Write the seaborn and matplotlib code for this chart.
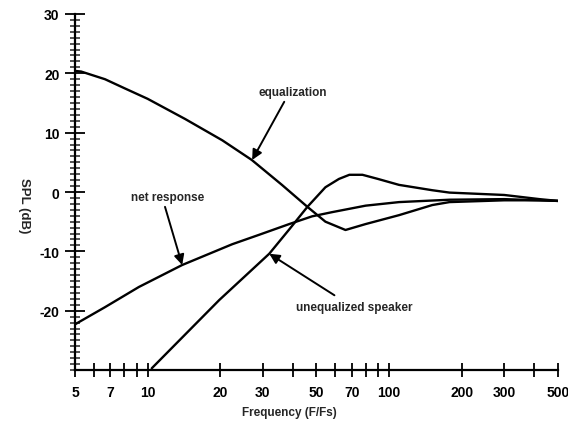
import numpy as np
import pandas as pd
import matplotlib
matplotlib.use("Agg")
import matplotlib.pyplot as plt
import seaborn as sns
from matplotlib.ticker import FixedLocator, NullFormatter

# values
freq_eq = [5, 5.3, 6.66, 8, 10, 14.3, 20.4, 27, 36, 45.9, 54.5, 66, 80, 110, 151, 178, 300, 420, 500]
spl_eq = [20.4, 20.3, 19.0, 17.5, 15.7, 12.3, 8.7, 5.4, 1.2, -2.5, -5.0, -6.4, -5.4, -3.9, -2.2, -1.7, -1.4, -1.4, -1.5]

freq_spk = [10.4, 19.8, 31.9, 38.6, 45.9, 54.5, 62, 68.5, 77.6, 90, 110, 151, 178, 300, 420, 500]
spl_spk = [-29.7, -18.2, -10.4, -6.3, -2.5, 0.8, 2.2, 2.9, 2.9, 2.2, 1.2, 0.3, -0.1, -0.5, -1.2, -1.5]

freq_net = [5, 6.66, 9.2, 13.9, 22.4, 29, 38.6, 48, 58, 80, 110, 178, 300, 500]
spl_net = [-22.3, -19.4, -16.0, -12.3, -8.8, -7.2, -5.4, -4.1, -3.4, -2.3, -1.7, -1.3, -1.2, -1.5]

xtick_vals = [5, 6, 7, 8, 9, 10, 20, 30, 40, 50, 60, 70, 80, 90, 100, 200, 300, 400, 500]
xtick_labels = ["5", "", "7", "", "", "10", "20", "30", "", "50", "", "70", "", "", "100", "200", "300", "", "500"]
ytick_vals = [-20, -10, 0, 10, 20, 30]

df = pd.concat([
    pd.DataFrame({"f": freq_eq, "spl": spl_eq, "curve": "equalization"}),
    pd.DataFrame({"f": freq_spk, "spl": spl_spk, "curve": "unequalized speaker"}),
    pd.DataFrame({"f": freq_net, "spl": spl_net, "curve": "net response"}),
])

sns.set_style("ticks")
plt.rcParams['font.family'] = ['Liberation Sans', 'DejaVu Sans']
plt.rcParams['axes.unicode_minus'] = False

fig = plt.figure(figsize=(5.68, 4.27), dpi=100)
ax = fig.add_axes([0.132, 0.131, 0.850, 0.834])

for name, grp in df.groupby("curve", sort=False):
    sns.lineplot(data=grp, x="f", y="spl", ax=ax, color="black", lw=1.7,
                 estimator=None, sort=False, legend=False)

ax.set_xscale("log")
ax.set_xlim(5, 500)
ax.set_ylim(-30, 30)

ax.xaxis.set_major_locator(FixedLocator(xtick_vals))
ax.xaxis.set_minor_locator(FixedLocator([]))
ax.set_xticklabels(xtick_labels)
ax.xaxis.set_minor_formatter(NullFormatter())
ax.set_yticks(ytick_vals)
ax.set_yticks(np.arange(-30, 31, 1), minor=True)

ax.tick_params(axis="x", which="major", direction="inout", length=10, width=1.3,
               labelsize=10, pad=6, colors="black")
ax.tick_params(axis="y", which="major", direction="inout", length=14, width=1.3,
               labelsize=10, pad=4, colors="black")
ax.tick_params(axis="y", which="minor", direction="inout", length=7, width=1.1)
for lab in ax.get_xticklabels() + ax.get_yticklabels():
    lab.set_fontweight("bold")

sns.despine(ax=ax)
for s in ["left", "bottom"]:
    ax.spines[s].set_linewidth(1.6)
    ax.spines[s].set_color("black")

ax.set_xlabel("Frequency (F/Fs)", fontsize=8.5, fontweight="bold")
ax.xaxis.set_label_coords(0.445, -0.1)
ax.set_ylabel("SPL (dB)", fontsize=9.5, fontweight="bold", rotation=-90)
ax.yaxis.set_label_coords(-0.118, 0.465)

arrow = dict(arrowstyle="-|>", color="black", lw=1.4, mutation_scale=15,
             shrinkA=0, shrinkB=0)
txt = dict(fontsize=8.5, fontweight="bold", ha="center", va="center")

ax.text(40, 16.9, "equalization", **txt)
ax.annotate("", xy=(27.1, 5.4), xytext=(36.8, 15.2), arrowprops=arrow)

ax.text(12.05, -0.8, "net response", **txt)
ax.annotate("", xy=(13.9, -12.3), xytext=(11.8, -2.5), arrowprops=arrow)

ax.text(72, -19.4, "unequalized speaker", **txt)
ax.annotate("", xy=(31.9, -10.4), xytext=(59.4, -17.4), arrowprops=arrow)

fig.savefig("out.png", dpi=100)
